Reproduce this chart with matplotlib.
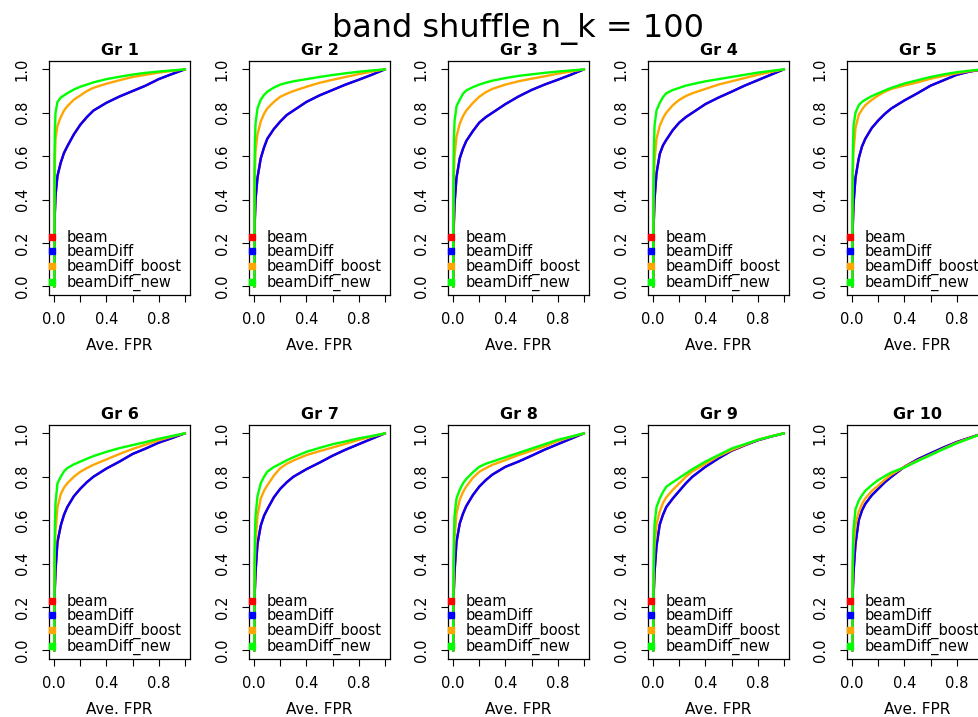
import matplotlib
matplotlib.use('Agg')
import matplotlib.pyplot as plt
from matplotlib.lines import Line2D

plt.rcParams['font.family'] = ['DejaVu Sans']

# ---- data ----
fpr = [0, 0.002, 0.005, 0.01, 0.025, 0.05, 0.075, 0.1, 0.15, 0.2, 0.25, 0.3,
       0.4, 0.5, 0.6, 0.7, 0.8, 0.9, 1.0]
groups = ['Gr 1', 'Gr 2', 'Gr 3', 'Gr 4', 'Gr 5', 'Gr 6', 'Gr 7', 'Gr 8', 'Gr 9', 'Gr 10']

tpr_beamDiff = [
    [0, .25, .34, .42, .51, .57, .615, .645, .70, .745, .78, .81, .846, .875, .90, .925, .955, .978, 1],
    [0, .22, .31, .40, .50, .59, .64, .68, .725, .76, .79, .81, .85, .88, .905, .93, .952, .975, 1],
    [0, .20, .29, .38, .50, .59, .635, .67, .715, .755, .78, .80, .84, .875, .905, .93, .952, .975, 1],
    [0, .22, .31, .40, .52, .61, .65, .675, .72, .755, .78, .80, .84, .87, .897, .925, .95, .975, 1],
    [0, .20, .29, .38, .50, .59, .645, .68, .73, .765, .795, .82, .857, .89, .925, .95, .975, .99, 1],
    [0, .20, .29, .37, .50, .575, .625, .66, .71, .745, .775, .80, .838, .87, .905, .93, .957, .978, 1],
    [0, .20, .28, .36, .49, .575, .62, .65, .705, .745, .775, .80, .835, .865, .897, .925, .95, .975, 1],
    [0, .20, .28, .36, .50, .585, .63, .665, .715, .755, .785, .81, .846, .87, .897, .925, .95, .975, 1],
    [0, .20, .28, .36, .48, .58, .625, .66, .70, .735, .77, .80, .846, .885, .92, .945, .968, .985, 1],
    [0, .20, .28, .36, .49, .60, .645, .675, .715, .745, .775, .80, .846, .88, .908, .935, .96, .98, 1],
]
tpr_beam = [list(row) for row in tpr_beamDiff]   # beam lies under beamDiff
tpr_boost = [
    [0, .45, .58, .68, .74, .78, .81, .83, .86, .88, .90, .915, .934, .95, .965, .975, .985, .993, 1],
    [0, .40, .52, .62, .70, .76, .795, .82, .85, .874, .888, .90, .92, .938, .952, .965, .978, .99, 1],
    [0, .40, .51, .60, .69, .75, .785, .81, .845, .874, .895, .91, .93, .945, .957, .968, .98, .99, 1],
    [0, .38, .49, .58, .68, .74, .775, .80, .835, .86, .877, .89, .91, .93, .945, .96, .975, .988, 1],
    [0, .40, .52, .62, .73, .79, .815, .835, .86, .88, .897, .91, .926, .94, .957, .97, .982, .992, 1],
    [0, .35, .46, .55, .66, .72, .75, .77, .80, .823, .84, .855, .88, .905, .928, .948, .968, .985, 1],
    [0, .30, .41, .50, .62, .70, .735, .76, .805, .84, .86, .875, .90, .918, .935, .952, .97, .985, 1],
    [0, .30, .42, .52, .63, .695, .73, .755, .795, .823, .84, .855, .877, .90, .92, .94, .965, .983, 1],
    [0, .30, .40, .48, .58, .64, .68, .705, .74, .77, .80, .825, .86, .895, .923, .947, .97, .986, 1],
    [0, .30, .40, .48, .58, .64, .675, .70, .735, .76, .787, .81, .846, .875, .902, .93, .957, .978, 1],
]
tpr_new = [
    [0, .60, .72, .80, .85, .87, .88, .89, .907, .92, .93, .94, .955, .966, .976, .984, .99, .995, 1],
    [0, .55, .66, .75, .82, .86, .882, .897, .916, .93, .938, .945, .955, .965, .974, .982, .989, .995, 1],
    [0, .55, .67, .76, .83, .86, .888, .903, .918, .93, .94, .948, .96, .97, .977, .984, .99, .995, 1],
    [0, .50, .63, .74, .81, .845, .872, .89, .905, .915, .925, .932, .945, .955, .965, .975, .985, .993, 1],
    [0, .50, .63, .74, .80, .835, .85, .86, .877, .89, .903, .915, .935, .95, .965, .977, .987, .994, 1],
    [0, .45, .57, .68, .77, .80, .825, .84, .857, .87, .883, .895, .915, .932, .946, .96, .975, .988, 1],
    [0, .40, .52, .62, .71, .77, .80, .823, .845, .86, .876, .89, .915, .933, .95, .963, .977, .988, 1],
    [0, .40, .52, .62, .70, .74, .77, .79, .82, .846, .86, .87, .89, .91, .93, .95, .97, .985, 1],
    [0, .35, .48, .58, .66, .70, .73, .754, .775, .795, .815, .835, .87, .90, .93, .95, .97, .986, 1],
    [0, .35, .47, .56, .65, .69, .715, .735, .762, .785, .803, .82, .843, .872, .90, .928, .954, .977, 1],
]

series_names = ['beam', 'beamDiff', 'beamDiff_boost', 'beamDiff_new']
series_colors = ['#FF0000', '#0000FF', '#FFA500', '#00FF00']
tick_vals = [0.0, 0.2, 0.4, 0.6, 0.8, 1.0]
xtick_labels = ['0.0', '', '0.4', '', '0.8', '']
ytick_labels = ['0.0', '0.2', '0.4', '0.6', '0.8', '1.0']
main_title = 'band shuffle n_k = 100'
x_label = 'Ave. FPR'

# ---- layout ----
W, H = 979, 717
fig = plt.figure(figsize=(W / 100, H / 100), dpi=100)
col_left = [49, 249, 448, 648, 847]
row_top = [60.7, 424.7]
aw, ah = 141, 234.3

for i, g in enumerate(groups):
    r, c = divmod(i, 5)
    ax = fig.add_axes([col_left[c] / W, 1 - (row_top[r] + ah) / H, aw / W, ah / H])
    series = [tpr_beam[i], tpr_beamDiff[i], tpr_boost[i], tpr_new[i]]
    for data, col in zip(series, series_colors):
        ax.plot(fpr, data, color=col, lw=1.7, solid_joinstyle='round')
    ax.set_xlim(-0.04, 1.04)
    ax.set_ylim(-0.04, 1.04)
    ax.set_xticks(tick_vals)
    ax.set_xticklabels(xtick_labels)
    ax.set_yticks(tick_vals)
    ax.set_yticklabels(ytick_labels, rotation=90, va='center')
    ax.tick_params(axis='both', length=5, width=0.8, labelsize=10.5, color='black')
    ax.tick_params(axis='x', pad=7.5)
    ax.tick_params(axis='y', pad=9)
    for sp in ax.spines.values():
        sp.set_linewidth(0.9)
        sp.set_color('black')
    ax.set_title(g, fontweight='bold', fontsize=11.5, pad=4)
    ax.set_xlabel(x_label, fontsize=11, labelpad=7.5)
    handles = [Line2D([], [], linestyle='none', marker='s', markersize=4.4,
                      color=col) for col in series_colors]
    ax.legend(handles, series_names, loc='lower left', bbox_to_anchor=(-0.02, 0.017),
              frameon=False, fontsize=10.5, handlelength=0.75, handletextpad=0.65,
              labelspacing=-0.03, borderpad=0, borderaxespad=0)

fig.text(518 / W, 1 - 37 / H, main_title, ha='center', va='baseline', fontsize=23)

fig.savefig('out.png', dpi=100, facecolor='white')
